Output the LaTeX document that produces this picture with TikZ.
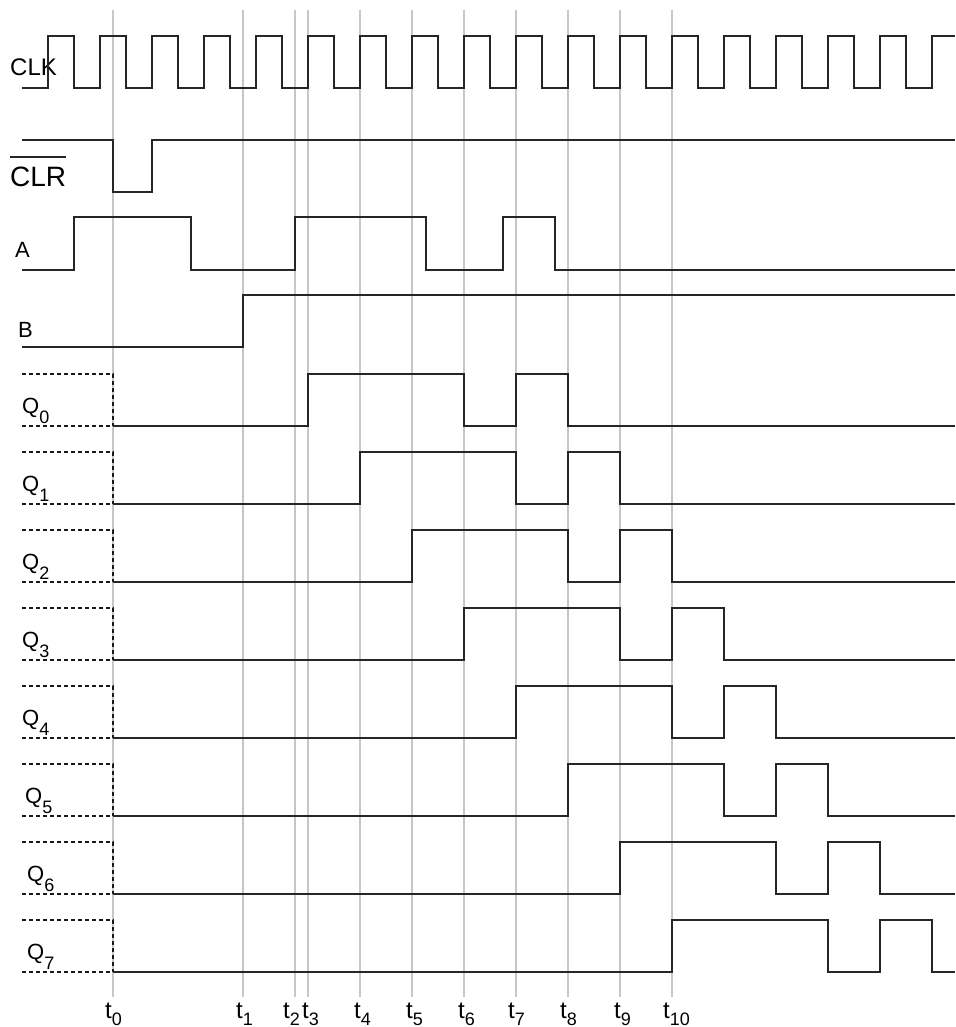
\documentclass[tikz,border=0pt]{standalone}
\usepackage{fontspec}
\setmainfont{Liberation Sans}
\newcommand\lowsub[2]{\raisebox{-#1pt}{\fontsize{18}{18}\selectfont #2}}
\tikzset{
  sig/.style={line width=1.1pt, black!85, line join=miter},
  grid/.style={line width=1.4pt, black!22},
  dsh/.style={line width=1.2pt, black!90, dash pattern=on 4pt off 3pt},
  lab/.style={inner sep=0pt, anchor=base west, font=\fontsize{22}{22}\selectfont},
  tlab/.style={inner sep=0pt, anchor=base west, font=\fontsize{24}{24}\selectfont}
}
\begin{document}
\begin{tikzpicture}[x=1pt,y=-1pt]
\useasboundingbox (0,0) rectangle (955,1027);
% time grid lines
\foreach \x/\n in {113/0,243/1,295/2,308/3,360/4,412/5,464/6,516/7,568/8,620/9,672/10}{
  \coordinate (gt\n) at (\x,10);
  \coordinate (gb\n) at (\x,997);
  \draw[grid] (gt\n) -- (gb\n);
}
% time labels
\foreach \x/\n in {105/0,236/1,283/2,302/3,354/4,406/5,458/6,508/7,560/8,614/9,663/10}{
  \node[tlab] (t\n) at (\x,1018) {t\lowsub{7}{\n}};
}
% CLK
\node[lab, font=\fontsize{24}{24}\selectfont] (clk) at (10,76) {CLK};
\draw[sig] (22,88) \foreach \k in {0,...,16}{ -- ({48+52*\k},88) -- ({48+52*\k},36) -- ({74+52*\k},36) -- ({74+52*\k},88) } -- (932,88) -- (932,36) -- (955,36);
% CLR
\node[lab, font=\fontsize{28}{28}\selectfont] (clr) at (10,186) {CLR};
\draw[line width=1.4pt, black!85] ([yshift=29pt]clr.base west) -- ([yshift=29pt]clr.base east);
\draw[sig] (22,140) -- (113,140) -- (113,192) -- (152,192) -- (152,140) -- (955,140);
% A
\node[lab] (a) at (15,257) {A};
\draw[sig] (22,270) -- (74,270) -- (74,217) -- (191,217) -- (191,270) -- (295,270) -- (295,217) -- (426,217) -- (426,270) -- (503,270) -- (503,217) -- (555,217) -- (555,270) -- (955,270);
% B
\node[lab] (b) at (18,337) {B};
\draw[sig] (22,347) -- (243,347) -- (243,295) -- (955,295);
% Q outputs
\foreach \i/\lx in {0/22,1/22,2/22,3/22,4/22,5/25,6/27,7/27}{
  \pgfmathsetmacro{\L}{426+78*\i}
  \pgfmathsetmacro{\H}{\L-52}
  \pgfmathsetmacro{\s}{308+52*\i}
  \node[lab] (q\i) at (\lx,\L-13) {Q\lowsub{10}{\i}};
  \draw[dsh] (22,\H) -- (113,\H) -- (113,\L);
  \draw[dsh] (22,\L) -- (113,\L);
  \draw[sig] (113,\L) -- (\s,\L) -- (\s,\H) -- (\s+156,\H) -- (\s+156,\L) -- (\s+208,\L) -- (\s+208,\H) -- (\s+260,\H) -- (\s+260,\L) -- (955,\L);
}
\end{tikzpicture}
\end{document}
